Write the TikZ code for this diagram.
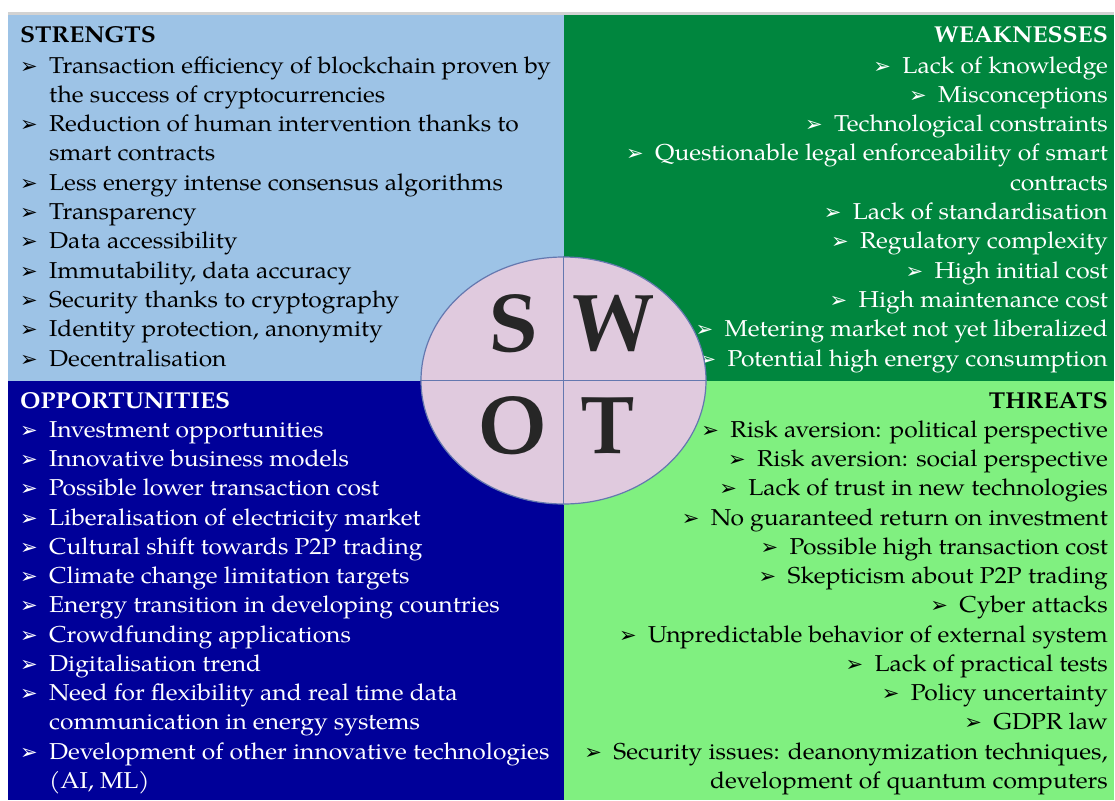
\documentclass[tikz,border=0pt]{standalone}
\usepackage{fontspec}
\setmainfont{texgyrepagella}[Extension=.otf,UprightFont=*-regular,BoldFont=*-bold,ItalicFont=*-italic,BoldItalicFont=*-bolditalic]
\newfontfamily\wide{texgyrepagella}[Extension=.otf,UprightFont=*-regular,BoldFont=*-bold,FakeStretch=1.07]
\newfontfamily\dejavu{DejaVu Sans}
\usetikzlibrary{shapes.geometric}
\definecolor{sblue}{RGB}{157,195,230}
\definecolor{wgreen}{RGB}{0,134,62}
\definecolor{onavy}{RGB}{0,0,153}
\definecolor{tgreen}{RGB}{128,240,128}
\definecolor{ellfill}{RGB}{224,202,222}
\definecolor{ellline}{RGB}{100,120,175}
\definecolor{letter}{RGB}{38,38,38}
\newcommand\bul{\makebox[29pt][l]{\dejavu\fontsize{21}{21}\selectfont ➢}}
\newcommand\ind{\hspace*{29pt}}
\tikzset{
  txt/.style={inner sep=0pt, font=\wide\fontsize{23}{26}\selectfont},
  lt/.style={txt, anchor=base west},
  rt/.style={txt, anchor=base east},
  head/.style={font=\wide\fontsize{23}{26}\selectfont\bfseries},
  big/.style={inner sep=0pt, text=letter, font=\fontsize{82}{82}\selectfont\bfseries},
}
\begin{document}
\begin{tikzpicture}[x=1pt,y=-1pt]
\useasboundingbox (0,0) rectangle (1115,800);
\fill[white] (0,0) rectangle (1115,800);
% quadrants
\fill[gray!35] (8,12) rectangle (1114,15);
\fill[sblue] (8,15) rectangle (563.5,380.5);
\fill[wgreen] (563.5,15) rectangle (1114,380.5);
\fill[onavy] (8,380.5) rectangle (563.5,800);
\fill[tgreen] (563.5,380.5) rectangle (1114,800);
% STRENGTHS
\begin{scope}[every node/.append style={text=black}]
\node[lt,head] (s0) at (20,43) {STRENGTS};
\node[lt] (s1) at (20,73) {\bul Transaction efficiency of blockchain proven by};
\node[lt] (s2) at (20,102.3) {\ind the success of cryptocurrencies};
\node[lt] (s3) at (20,131.6) {\bul Reduction of human intervention thanks to};
\node[lt] (s4) at (20,160.9) {\ind smart contracts};
\node[lt] (s5) at (20,190.2) {\bul Less energy intense consensus algorithms};
\node[lt] (s6) at (20,219.5) {\bul Transparency};
\node[lt] (s7) at (20,248.8) {\bul Data accessibility};
\node[lt] (s8) at (20,278.1) {\bul Immutability, data accuracy};
\node[lt] (s9) at (20,307.4) {\bul Security thanks to cryptography};
\node[lt] (s10) at (20,336.7) {\bul Identity protection, anonymity};
\node[lt] (s11) at (20,366) {\bul Decentralisation};
\end{scope}
% WEAKNESSES
\begin{scope}[every node/.append style={text=white}]
\node[rt,head] (w0) at (1108,43) {WEAKNESSES};
\node[rt] (w1) at (1108,73) {\bul Lack of knowledge};
\node[rt] (w2) at (1108,102.3) {\bul Misconceptions};
\node[rt] (w3) at (1108,131.6) {\bul Technological constraints};
\node[rt] (w4) at (1108,160.9) {\bul Questionable legal enforceability of smart};
\node[rt] (w5) at (1108,190.2) {contracts};
\node[rt] (w6) at (1108,219.5) {\bul Lack of standardisation};
\node[rt] (w7) at (1108,248.8) {\bul Regulatory complexity};
\node[rt] (w8) at (1108,278.1) {\bul High initial cost};
\node[rt] (w9) at (1108,307.4) {\bul High maintenance cost};
\node[rt] (w10) at (1108,336.7) {\bul Metering market not yet liberalized};
\node[rt] (w11) at (1108,366) {\bul Potential high energy consumption};
\end{scope}
% OPPORTUNITIES
\begin{scope}[every node/.append style={text=white}]
\node[lt,head] (o0) at (20,408) {OPPORTUNITIES};
\node[lt] (o1) at (20,437.3) {\bul Investment opportunities};
\node[lt] (o2) at (20,466.5) {\bul Innovative business models};
\node[lt] (o3) at (20,495.8) {\bul Possible lower transaction cost};
\node[lt] (o4) at (20,525) {\bul Liberalisation of electricity market};
\node[lt] (o5) at (20,554.3) {\bul Cultural shift towards P2P trading};
\node[lt] (o6) at (20,583.5) {\bul Climate change limitation targets};
\node[lt] (o7) at (20,612.8) {\bul Energy transition in developing countries};
\node[lt] (o8) at (20,642) {\bul Crowdfunding applications};
\node[lt] (o9) at (20,671.3) {\bul Digitalisation trend};
\node[lt] (o10) at (20,700.5) {\bul Need for flexibility and real time data};
\node[lt] (o11) at (20,729.8) {\ind communication in energy systems};
\node[lt] (o12) at (20,759) {\bul Development of other innovative technologies};
\node[lt] (o13) at (20,788.3) {\ind (AI, ML)};
\end{scope}
% THREATS
\begin{scope}[every node/.append style={text=black}]
\node[rt,head] (t0) at (1108,408) {THREATS};
\node[rt] (t1) at (1108,437.3) {\bul Risk aversion: political perspective};
\node[rt] (t2) at (1108,466.5) {\bul Risk aversion: social perspective};
\node[rt] (t3) at (1108,495.8) {\bul Lack of trust in new technologies};
\node[rt] (t4) at (1108,525) {\bul No guaranteed return on investment};
\node[rt] (t5) at (1108,554.3) {\bul Possible high transaction cost};
\node[rt] (t6) at (1108,583.5) {\bul Skepticism about P2P trading};
\node[rt] (t7) at (1108,612.8) {\bul Cyber attacks};
\node[rt] (t8) at (1108,642) {\bul Unpredictable behavior of external system};
\node[rt] (t9) at (1108,671.3) {\bul Lack of practical tests};
\node[rt] (t10) at (1108,700.5) {\bul Policy uncertainty};
\node[rt] (t11) at (1108,729.8) {\bul GDPR law};
\node[rt] (t12) at (1108,759) {\bul Security issues: deanonymization techniques,};
\node[rt] (t13) at (1108,788.3) {development of quantum computers};
\end{scope}
% central ellipse
\node[ellipse, draw=ellline, line width=1.2pt, fill=ellfill, inner sep=0pt,
      minimum width=285pt, minimum height=247pt] (swot) at (563.5,380.5) {};
\draw[ellline, line width=1.2pt] (swot.north) -- (swot.south);
\draw[ellline, line width=1.2pt] (swot.west) -- (swot.east);
\node[big] (S) at (514,323.5) {S};
\node[big] (W) at (613,323.5) {W};
\node[big] (O) at (513,426) {O};
\node[big] (T) at (608,426) {T};
\end{tikzpicture}
\end{document}
